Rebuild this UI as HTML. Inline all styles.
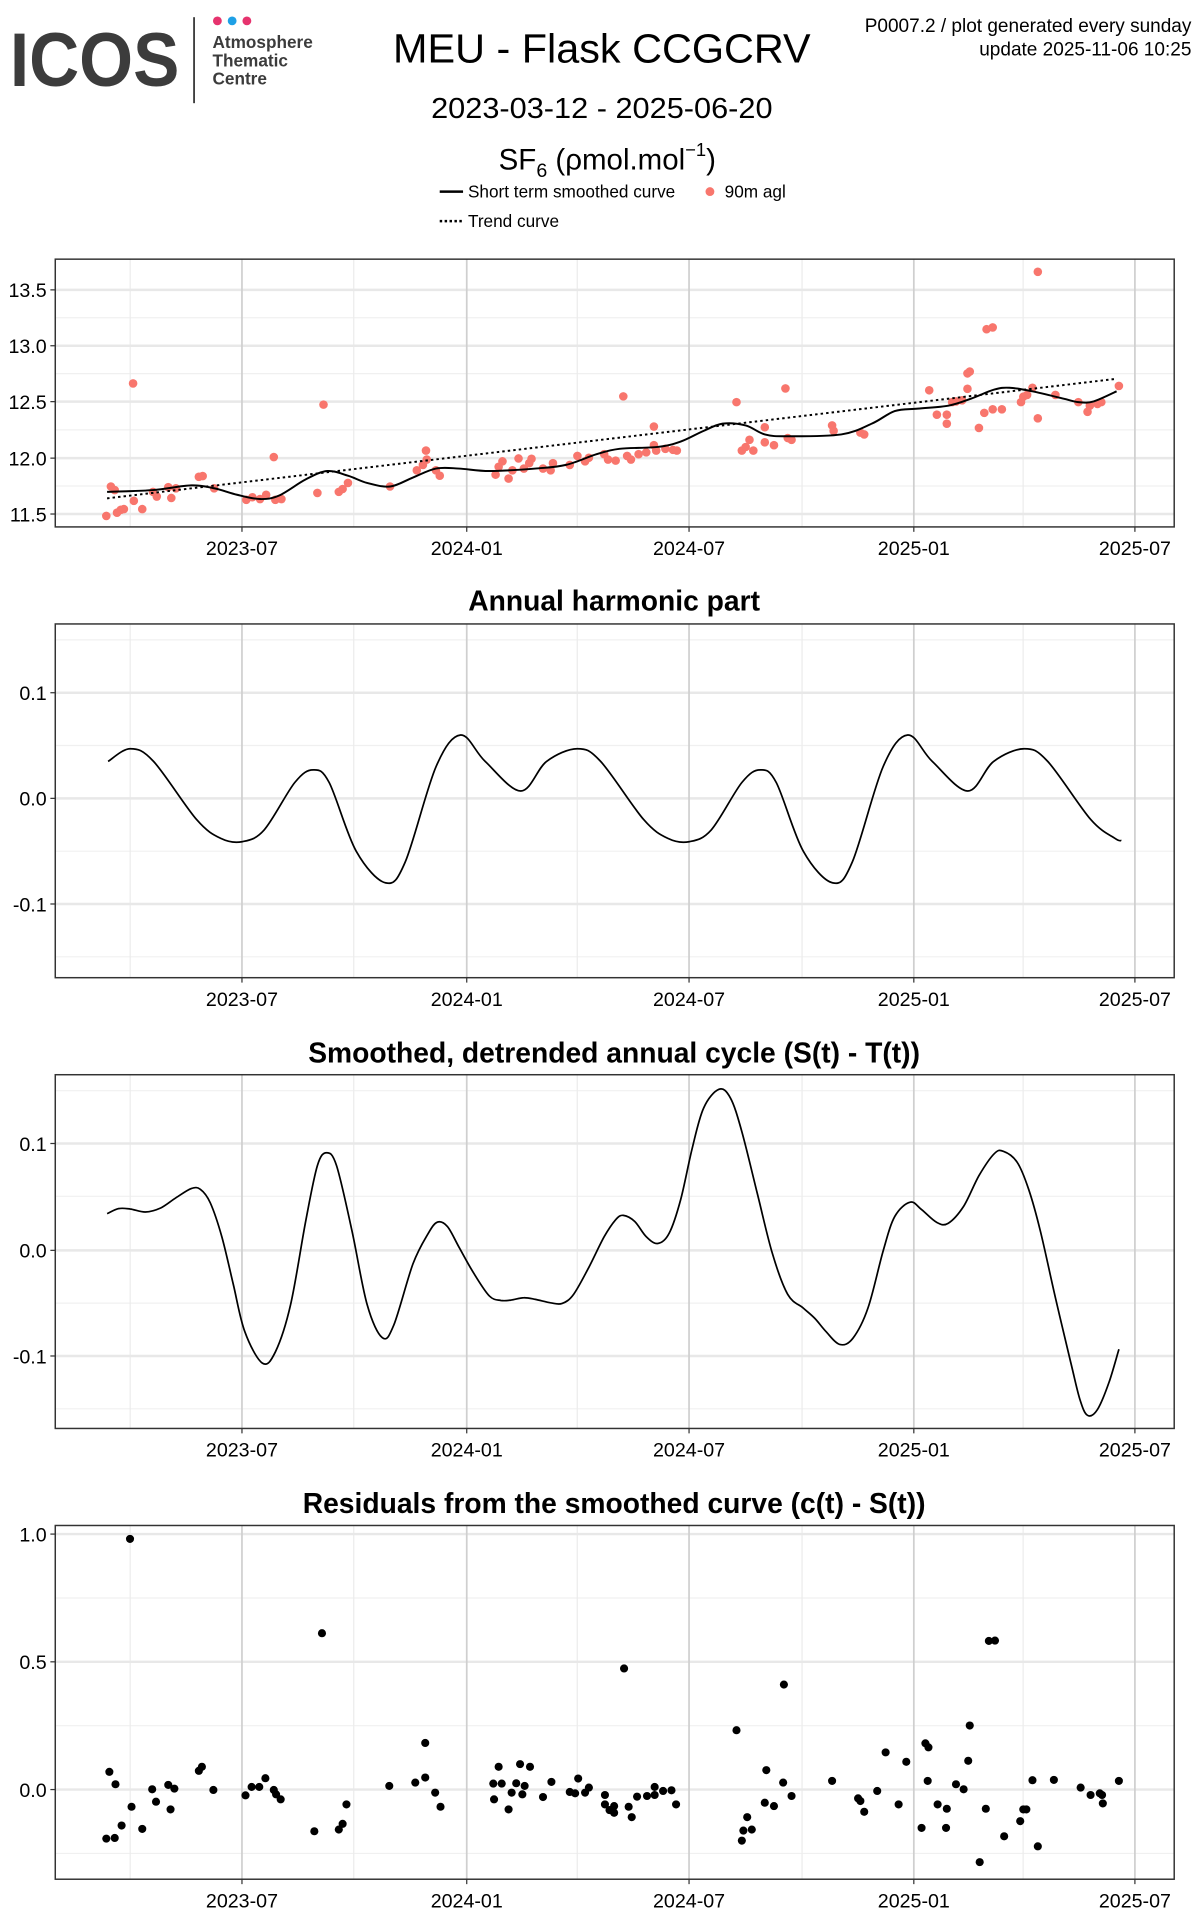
<!DOCTYPE html>
<html><head><meta charset="utf-8">
<style>
html,body{margin:0;padding:0;background:#fff;}
svg{display:block;}
text{font-family:"Liberation Sans",sans-serif;}
</style></head>
<body>
<svg id="s" width="1200" height="1920" viewBox="0 0 977 1563.2" xmlns="http://www.w3.org/2000/svg">
<rect width="977" height="1564" fill="#fff"/>
<text x="8" y="70" font-size="62" font-weight="bold" fill="#3c3c3c" textLength="138" lengthAdjust="spacingAndGlyphs">ICOS</text>
<line x1="158" y1="14" x2="158" y2="84" stroke="#3c3c3c" stroke-width="1.5"/>
<circle cx="177" cy="17" r="3.6" fill="#e6336e"/>
<circle cx="189" cy="17" r="3.6" fill="#1ea0e6"/>
<circle cx="201" cy="17" r="3.6" fill="#e6336e"/>
<text x="173" y="39" font-size="14" font-weight="bold" fill="#3c3c3c">Atmosphere</text>
<text x="173" y="54" font-size="14" font-weight="bold" fill="#3c3c3c">Thematic</text>
<text x="173" y="69" font-size="14" font-weight="bold" fill="#3c3c3c">Centre</text>
<text x="490" y="51" font-size="33" text-anchor="middle" textLength="340" lengthAdjust="spacingAndGlyphs">MEU - Flask CCGCRV</text>
<text x="490" y="96" font-size="23" text-anchor="middle" textLength="278" lengthAdjust="spacingAndGlyphs">2023-03-12 - 2025-06-20</text>
<text x="406" y="138" font-size="24">SF<tspan font-size="16" dy="6">6</tspan><tspan dy="-6"> (ρmol.mol</tspan><tspan font-size="15" dy="-11">−1</tspan><tspan dy="11">)</tspan></text>
<line x1="358" y1="156" x2="377" y2="156" stroke="#000" stroke-width="2"/>
<text x="381" y="161" font-size="14">Short term smoothed curve</text>
<circle cx="578" cy="156" r="3.6" fill="#f8766d"/>
<text x="590" y="161" font-size="14">90m agl</text>
<line x1="358" y1="180" x2="377" y2="180" stroke="#000" stroke-width="2" stroke-dasharray="2,2"/>
<text x="381" y="185" font-size="14">Trend curve</text>
<text x="970" y="26" font-size="15.5" text-anchor="end">P0007.2 / plot generated every sunday</text>
<text x="970" y="45" font-size="15.5" text-anchor="end">update  2025-11-06 10:25</text>
<text x="500" y="497" font-size="23" font-weight="bold" text-anchor="middle">Annual harmonic part</text>
<text x="500" y="865" font-size="23" font-weight="bold" text-anchor="middle">Smoothed, detrended annual cycle (S(t) - T(t))</text>
<text x="500" y="1232" font-size="23" font-weight="bold" text-anchor="middle">Residuals from the smoothed curve (c(t) - S(t))</text>
<g id="g"></g>
</svg>
<script>
var NS="http://www.w3.org/2000/svg",G=document.getElementById("g");
var FX=1.606;
function el(t,a,txt){var e=document.createElementNS(NS,t);for(var k in a)e.setAttribute(k,a[k]);if(txt!=null)e.textContent=txt;G.appendChild(e);return e;}
var XM=[197,380,561,744,924],XMIN=[106,288,470,653,833],XL=["2023-07","2024-01","2024-07","2025-01","2025-07"];
function panel(top,bot,yt,ylab,ymin){
 ymin.forEach(function(y){el("line",{x1:45,x2:956,y1:y,y2:y,stroke:"#f0f0f0","stroke-width":1});});
 XMIN.forEach(function(x){el("line",{x1:x,x2:x,y1:top,y2:bot,stroke:"#ececec","stroke-width":1});});
 yt.forEach(function(y){el("line",{x1:45,x2:956,y1:y,y2:y,stroke:"#e8e8e8","stroke-width":2});});
 XM.forEach(function(x){el("line",{x1:x,x2:x,y1:top,y2:bot,stroke:"#cfcfcf","stroke-width":1.4});});
 el("rect",{x:45,y:top,width:911,height:bot-top,fill:"none",stroke:"#333","stroke-width":1.2});
 yt.forEach(function(y,i){el("line",{x1:41,x2:45,y1:y,y2:y,stroke:"#333"});el("text",{x:38,y:y+6,"font-size":16,"text-anchor":"end"},ylab[i]);});
 XM.forEach(function(x,i){el("line",{x1:x,x2:x,y1:bot,y2:bot+4,stroke:"#333"});el("text",{x:x,y:bot+23,"font-size":16,"text-anchor":"middle"},XL[i]);});
}
function cr(p){var d="M"+p[0][0].toFixed(1)+","+p[0][1].toFixed(1);
 for(var i=0;i<p.length-1;i++){var a=p[i-1]||p[i],b=p[i],c=p[i+1],e=p[i+2]||c;
 d+=" C"+(b[0]+(c[0]-a[0])/6).toFixed(1)+","+(b[1]+(c[1]-a[1])/6).toFixed(1)+" "+(c[0]-(e[0]-b[0])/6).toFixed(1)+","+(c[1]-(e[1]-b[1])/6).toFixed(1)+" "+c[0].toFixed(1)+","+c[1].toFixed(1);}
 return d;}
panel(211,429,[236,281.5,327,373,418.5],["13.5","13.0","12.5","12.0","11.5"],[258.7,304.2,350,395.7]);
function z1(p){return [p[0]/FX,p[1]/3.421];}
var pts=[[139,1437],[145,1355],[150,1365],[153,1428],[158,1420],[162,1418],[175,1395],[174,1068],[186,1418],[200,1370],[205,1383],[220,1357],[224,1387],[230,1360],[260,1328],[265,1326],[280,1360],[322,1392],[330,1385],[340,1390],[348,1378],[358,1273],[360,1392],[368,1390],[415,1373],[423,1127],[443,1370],[448,1362],[455,1345],[510,1355],[545,1310],[553,1295],[557,1255],[558,1280],[570,1310],[575,1325],[648,1322],[652,1300],[657,1285],[665,1333],[670,1310],[678,1277],[685,1305],[692,1290],[695,1278],[710,1305],[720,1310],[723,1290],[745,1295],[755,1270],[765,1285],[770,1275],[790,1265],[795,1280],[805,1283],[815,1104],[820,1270],[825,1280],[835,1265],[845,1260],[855,1188],[855,1240],[858,1255],[870,1250],[880,1253],[885,1255],[963,1120],[970,1255],[975,1245],[980,1225],[985,1255],[1000,1190],[1000,1232],[1012,1240],[1027,1082],[1030,1220],[1035,1225],[1088,1185],[1090,1200],[1125,1205],[1130,1210],[1215,1087],[1225,1155],[1238,1155],[1238,1180],[1245,1120],[1250,1118],[1258,1115],[1265,1083],[1265,1040],[1268,1035],[1280,1192],[1287,1150],[1290,917],[1298,912],[1298,1140],[1310,1140],[1335,1120],[1338,1105],[1343,1100],[1350,1080],[1357,757],[1357,1165],[1380,1100],[1410,1120],[1422,1147],[1425,1130],[1435,1125],[1440,1120],[1463,1075]];
pts.forEach(function(p){var q=z1(p);el("circle",{cx:q[0],cy:q[1],r:3.5,fill:"#f8766d"});});
var sm=[[140,1370],[200,1365],[250,1352],[280,1360],[310,1378],[340,1390],[365,1380],[400,1335],[428,1312],[455,1325],[480,1345],[510,1355],[540,1330],[570,1305],[600,1305],[640,1312],[700,1305],[740,1295],[780,1265],[810,1250],[860,1245],[890,1230],[920,1200],[945,1180],[975,1185],[1000,1210],[1030,1215],[1100,1210],[1140,1180],[1170,1145],[1200,1138],[1240,1130],[1270,1110],[1300,1085],[1320,1080],[1350,1090],[1390,1110],[1410,1120],[1430,1118],[1460,1090]].map(z1);
el("path",{d:cr(sm),fill:"none",stroke:"#000","stroke-width":1.6});
var a=z1([140,1388]),b=z1([1460,1055]);
el("line",{x1:a[0],y1:a[1],x2:b[0],y2:b[1],stroke:"#000","stroke-width":1.6,"stroke-dasharray":"2,2.5"});
panel(508,796,[564,650,736],["0.1","0.0","-0.1"],[521,607,693,779]);
var base=[[106,0.047],[125,0.035],[160,-0.02],[180,-0.038],[197,-0.041],[215,-0.03],[240,0.015],[255,0.027],[268,0.015],[290,-0.05],[314,-0.08],[330,-0.06],[355,0.03],[375,0.06],[395,0.035],[424,0.007],[445,0.035]];
var h=[[88,0.035]];for(var k=0;k<3;k++)base.forEach(function(p){var x=p[0]+364*k;if(x<=910)h.push([x,p[1]]);});
h.push([913,-0.04]);
h=h.map(function(p){return [p[0],650-p[1]*860];});
el("path",{d:cr(h),fill:"none",stroke:"#000","stroke-width":1.4});
panel(875,1163,[931,1018,1104],["0.1","0.0","-0.1"],[888,974,1061,1147]);
var c3=[[140,512],[155,497],[170,498],[190,507],[210,495],[230,465],[250,438],[262,440],[275,480],[290,580],[305,720],[320,860],[343,953],[360,920],[380,780],[400,530],[415,370],[427,332],[440,370],[460,560],[480,780],[500,878],[515,840],[540,660],[560,570],[572,537],[585,550],[600,610],[620,690],[640,755],[655,768],[668,767],[685,760],[700,765],[720,775],[735,777],[750,750],[770,670],[790,580],[805,530],[815,517],[830,535],[845,580],[860,600],[875,570],[890,470],[905,320],[920,200],[940,145],[955,170],[970,270],[990,450],[1010,630],[1030,750],[1050,790],[1065,820],[1080,860],[1098,898],[1115,880],[1135,790],[1155,620],[1170,520],[1190,478],[1205,500],[1225,538],[1240,540],[1260,490],[1280,400],[1300,335],[1312,328],[1330,360],[1345,440],[1360,560],[1380,760],[1400,950],[1412,1060],[1422,1107],[1435,1090],[1450,1010],[1463,912]].map(function(p){return [p[0]/FX,(1040+p[1]/2.952)/1.228];});
el("path",{d:cr(c3),fill:"none",stroke:"#000","stroke-width":1.4});
panel(1242,1530,[1249,1353,1457],["1.0","0.5","0.0"],[1301,1405,1509]);
var r=[[139,1157],[143,958],[150,1155],[151,995],[159,1118],[170,264],[172,1062],[186,1128],[199,1010],[204,1047],[220,997],[223,1070],[228,1008],[260,955],[264,943],[279,1012],[321,1028],[329,1003],[339,1003],[347,977],[358,1012],[361,1025],[367,1040],[411,1135],[421,545],[443,1130],[448,1113],[453,1055],[509,1000],[543,990],[556,872],[556,975],[569,1020],[576,1062],[645,993],[646,1040],[652,943],[656,993],[665,1070],[669,1020],[675,992],[680,935],[683,1025],[686,1000],[693,943],[710,1033],[721,988],[745,1018],[752,1022],[756,978],[765,1020],[770,1005],[791,1027],[791,1055],[797,1072],[803,1080],[803,1060],[816,650],[822,1062],[826,1093],[833,1032],[846,1030],[856,1003],[856,1027],[867,1015],[878,1013],[884,1055],[963,834],[970,1163],[972,1133],[977,1093],[983,1130],[1000,1050],[1002,953],[1012,1060],[1024,990],[1025,698],[1035,1030],[1088,985],[1122,1037],[1125,1045],[1130,1077],[1147,1015],[1158,900],[1175,1055],[1185,928],[1205,1125],[1210,873],[1214,885],[1213,985],[1226,1055],[1237,1125],[1238,1068],[1250,995],[1260,1010],[1266,925],[1268,820],[1281,1227],[1289,1068],[1293,568],[1301,567],[1313,1150],[1334,1105],[1338,1070],[1342,1070],[1350,983],[1357,1180],[1378,982],[1413,1005],[1426,1027],[1438,1022],[1441,1027],[1442,1052],[1463,985]];
r.forEach(function(p){el("circle",{cx:p[0]/FX,cy:(1450+p[1]/2.98)/1.228,r:3.3,fill:"#000"});});
</script>
</body></html>
